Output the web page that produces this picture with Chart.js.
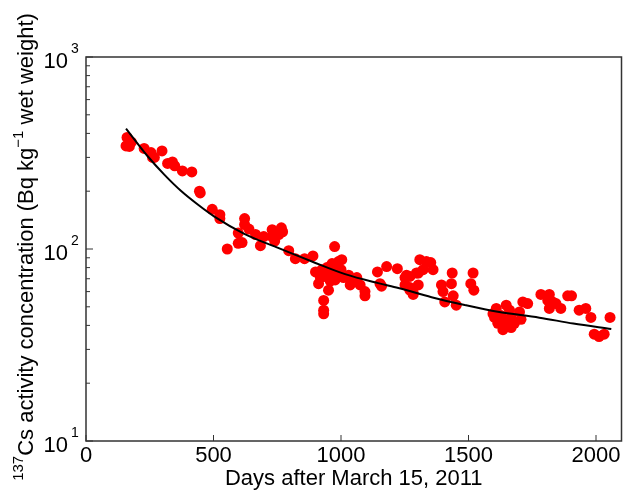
<!DOCTYPE html>
<html>
<head>
<meta charset="utf-8">
<script src="https://cdn.jsdelivr.net/npm/chart.js@4"></script>
<style>
  html, body { margin: 0; padding: 0; background: #fff; }
  canvas { display: block; }
</style>
</head>
<body>
<canvas id="csChart" width="627" height="493"></canvas>
<script>
// measured samples (days after March 15, 2011 / Bq kg-1 wet weight)
const days = [
  161, 157, 170, 178, 228, 255, 261, 268, 298, 320, 339, 348, 378, 415, 445, 448,
  495, 525, 525, 554, 597, 597, 612, 622, 622, 639, 665, 684, 697, 730, 730, 740,
  766, 771, 756, 795, 821, 857, 890, 975, 900, 919, 912, 938, 958, 971, 984, 990,
  1003, 977, 958, 990, 1010, 951, 932, 932, 932, 925, 945, 965, 1000,
  1030, 1036, 1062, 1075, 1094, 1094, 1040, 1060, 1143, 1153, 1159, 1179, 1221,
  1257, 1251, 1270, 1283, 1303, 1309, 1335, 1352, 1361, 1322, 1303, 1296, 1270,
  1251, 1270, 1283, 1394, 1407, 1436, 1518, 1433, 1400, 1440, 1452, 1509, 1521,
  1609, 1648, 1661, 1628, 1602, 1667, 1615, 1654, 1680, 1635, 1667, 1700, 1706,
  1596, 1635, 1713, 1732, 1784, 1817, 1811, 1830, 1843, 1817, 1862, 1889, 1904,
  1934, 1960, 1980, 1993, 2012, 2032, 2055
];
const activity = [
  381, 344, 342, 360, 334, 318, 300, 300, 324, 279, 284, 271, 255, 252, 200, 196,
  161, 151, 144, 100, 121, 107, 108, 144, 134, 127, 119, 104, 116, 126, 116, 110,
  129, 123, 119, 98, 89, 89, 92, 103, 76, 71, 66, 72, 73, 76, 81, 86,
  88, 69, 68, 72, 71, 61, 54, 48, 46, 78, 80, 84, 78,
  73, 65, 71, 65, 60, 57, 70, 68, 76, 66, 64, 81, 79,
  73, 65, 61, 58, 65, 88, 86, 85, 78, 78, 75, 75, 72,
  71, 63, 59, 65, 53, 75, 75, 66, 60, 57, 51, 66, 61,
  49, 51, 48, 45, 44, 44, 41, 40, 41, 38, 39, 47, 43,
  46, 43, 53, 52, 58, 58, 54, 53, 52, 49, 49, 57, 57,
  48, 49, 44, 36, 35, 36, 44
];

// fitted curve
const fitDays = [157, 241, 307, 372, 437, 502, 621, 756, 886, 1016, 1146, 1225, 1355, 1485, 1615, 1778, 1911, 2060];
const fitValues = [424, 305, 244, 201, 171, 148, 120, 101, 86.1, 74, 66.4, 62.7, 56.1, 51.1, 47.1, 43.9, 40.9, 38.3];

const xTicks = [0, 500, 1000, 1500, 2000];
const yTicks = [10, 100, 1000];
const yTickExp = ['1', '2', '3'];

const FONT = '"Liberation Sans", Arial, Helvetica, sans-serif';

const framePlugin = {
  id: 'frame',
  afterDraw(chart) {
    const ctx = chart.ctx;
    const area = chart.chartArea;
    const xs = chart.scales.x;
    const ys = chart.scales.y;
    ctx.save();

    // axes box
    ctx.strokeStyle = '#333';
    ctx.lineWidth = 1.5;
    ctx.strokeRect(area.left, area.top, area.right - area.left, area.bottom - area.top);

    // x ticks (inward) and labels
    ctx.lineWidth = 1;
    ctx.fillStyle = '#000';
    ctx.font = '22px ' + FONT;
    ctx.textAlign = 'center';
    ctx.textBaseline = 'alphabetic';
    xTicks.forEach(v => {
      const px = xs.getPixelForValue(v);
      ctx.beginPath();
      ctx.moveTo(px, area.bottom);
      ctx.lineTo(px, area.bottom - 6);
      ctx.stroke();
      ctx.fillText(String(v), px, 462);
    });

    // y major + minor ticks
    for (let dec = 10; dec < 1000; dec *= 10) {
      for (let m = 2; m <= 9; m++) {
        const py = ys.getPixelForValue(dec * m);
        ctx.beginPath();
        ctx.moveTo(area.left, py);
        ctx.lineTo(area.left + 4, py);
        ctx.stroke();
      }
    }
    yTicks.forEach((v, i) => {
      const py = ys.getPixelForValue(v);
      ctx.beginPath();
      ctx.moveTo(area.left, py);
      ctx.lineTo(area.left + 7, py);
      ctx.stroke();
      ctx.font = '22px ' + FONT;
      ctx.textAlign = 'right';
      ctx.fillText('10', 68, py + 11);
      ctx.font = '14px ' + FONT;
      ctx.textAlign = 'left';
      ctx.fillText(yTickExp[i], 71, py - 4);
    });

    // x title
    ctx.font = '22px ' + FONT;
    ctx.textAlign = 'center';
    ctx.fillText('Days after March 15, 2011', (area.left + area.right) / 2, 485);

    // y title with superscripts
    const parts = [
      { t: '137', sup: true },
      { t: 'Cs activity concentration (Bq kg', sup: false },
      { t: '\u22121', sup: true },
      { t: ' wet weight)', sup: false }
    ];
    const fontFor = p => (p.sup ? '15px ' : '22px ') + FONT;
    let total = 0;
    parts.forEach(p => { ctx.font = fontFor(p); total += ctx.measureText(p.t).width; });
    ctx.translate(33, 247);
    ctx.rotate(-Math.PI / 2);
    ctx.textAlign = 'left';
    let cx = -total / 2;
    parts.forEach(p => {
      ctx.font = fontFor(p);
      ctx.fillText(p.t, cx, p.sup ? -10 : 0);
      cx += ctx.measureText(p.t).width;
    });

    ctx.restore();
  }
};

const ctx = document.getElementById('csChart').getContext('2d');

new Chart(ctx, {
  type: 'scatter',
  data: {
    datasets: [
      {
        label: 'measured',
        data: days.map((d, i) => ({ x: d, y: activity[i] })),
        backgroundColor: 'rgb(255, 0, 0)',
        borderWidth: 0,
        pointRadius: 5.5,
        order: 1
      },
      {
        label: 'fit',
        data: fitDays.map((d, i) => ({ x: d, y: fitValues[i] })),
        showLine: true,
        borderColor: '#000',
        borderWidth: 2,
        pointRadius: 0,
        cubicInterpolationMode: 'monotone',
        fill: false,
        order: 0
      }
    ]
  },
  options: {
    responsive: false,
    animation: false,
    devicePixelRatio: 1,
    layout: { padding: { left: 86, right: 3, top: 57, bottom: 52 } },
    scales: {
      x: { type: 'linear', min: 0, max: 2100, display: false },
      y: { type: 'logarithmic', min: 10, max: 1000, display: false }
    },
    plugins: {
      legend: { display: false },
      tooltip: { enabled: false }
    }
  },
  plugins: [framePlugin]
});
</script>
</body>
</html>
